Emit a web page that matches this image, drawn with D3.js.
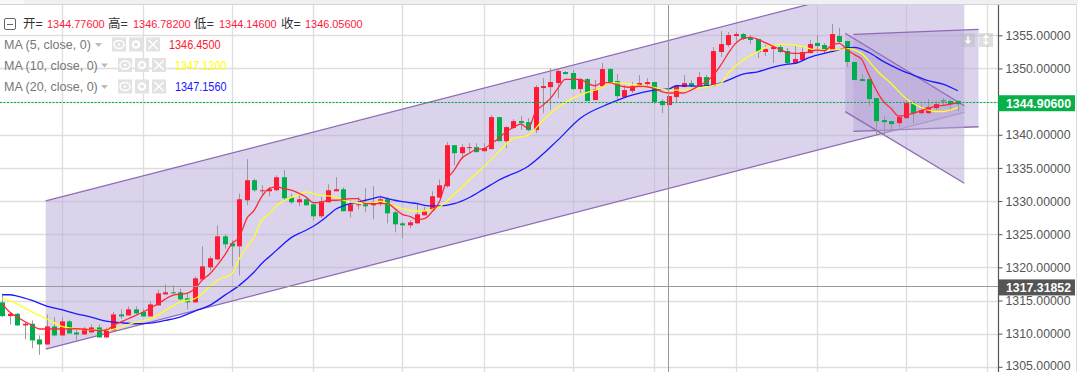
<!DOCTYPE html>
<html>
<head>
<meta charset="utf-8">
<script src="https://cdn.jsdelivr.net/npm/d3@7"></script>
<style>
html, body { margin: 0; padding: 0; background: #fff; overflow: hidden; }
text { font-family: "Liberation Sans", "Noto Sans CJK SC", sans-serif; }
</style>
</head>
<body>
<svg id="chart" width="1078" height="372"></svg>
<script>
// candles
const opens = [
1314.72,1312.65,1313.00,1311.24,1311.49,1309.13,1308.37,1311.09,1309.73,1311.85,
1310.18,1309.88,1310.18,1310.94,1309.43,1310.49,1312.90,1312.75,1313.66,1313.26,
1312.60,1314.26,1315.92,1316.23,1316.23,1315.32,1314.72,1318.18,1320.00,1321.21,
1324.68,1323.62,1323.17,1330.12,1333.14,1331.48,1331.48,1331.63,1333.59,1330.57,
1329.81,1330.27,1329.51,1327.70,1329.81,1331.48,1331.78,1328.46,1329.36,1329.51,
1329.36,1329.66,1330.27,1328.30,1326.64,1326.34,1326.64,1327.85,1328.61,1330.52,
1332.24,1338.43,1337.22,1337.98,1338.13,1337.52,1337.83,1342.66,1339.03,1341.00,
1342.06,1341.90,1340.70,1347.04,1347.19,1347.80,1349.46,1349.31,1346.89,1348.40,
1345.23,1347.34,1349.91,1348.10,1345.68,1346.59,1347.19,1347.64,1347.95,1345.08,
1344.47,1345.68,1347.19,1347.79,1347.34,1348.70,1347.34,1352.48,1353.53,1354.89,
1355.19,1354.59,1354.44,1352.48,1352.93,1353.23,1352.63,1350.81,1351.27,1352.32,
1353.84,1353.53,1352.63,1354.89,1354.14,1350.97,1348.40,1348.40,1345.53,1342.21,
1342.05,1341.75,1342.51,1344.62,1343.26,1343.26,1344.02,1345.18,1345.08,1345.08];
const closes = [
1312.65,1313.00,1311.24,1311.49,1308.98,1308.37,1311.09,1309.73,1311.85,1310.03,
1309.88,1310.79,1310.94,1309.43,1310.64,1312.90,1312.60,1313.66,1313.05,1312.60,
1314.41,1316.08,1316.23,1316.08,1315.17,1314.72,1318.34,1320.15,1321.36,1324.68,
1323.47,1323.17,1330.27,1333.14,1331.63,1331.63,1331.78,1333.59,1330.42,1329.81,
1330.27,1329.36,1327.70,1329.97,1331.63,1331.78,1328.46,1329.51,1329.51,1329.21,
1329.81,1330.27,1328.15,1326.49,1326.34,1326.79,1328.00,1328.61,1330.72,1332.38,
1338.43,1337.22,1338.13,1338.13,1337.37,1337.98,1342.66,1339.03,1341.15,1342.06,
1341.75,1340.70,1347.19,1347.34,1347.95,1349.61,1349.15,1346.89,1348.40,1345.08,
1346.89,1349.91,1347.95,1345.83,1346.74,1347.34,1347.80,1347.95,1344.93,1344.47,
1345.83,1347.34,1347.79,1347.34,1348.70,1347.34,1352.63,1353.68,1355.04,1355.19,
1354.44,1354.29,1352.48,1352.93,1353.23,1352.48,1350.81,1351.42,1352.48,1353.68,
1353.38,1352.63,1355.19,1353.99,1350.97,1348.25,1348.10,1345.38,1342.05,1341.90,
1341.60,1342.66,1344.77,1343.26,1343.72,1344.17,1344.62,1345.08,1344.62,1344.62];
const highs = [
1316.03,1313.10,1313.10,1311.75,1312.00,1309.73,1312.90,1312.50,1312.50,1312.10,
1310.74,1311.00,1311.39,1311.39,1310.89,1313.26,1313.66,1314.11,1314.11,1313.76,
1314.87,1316.63,1317.44,1317.28,1316.78,1316.03,1318.64,1323.17,1321.66,1326.34,
1324.98,1324.08,1331.12,1336.31,1333.39,1332.38,1332.13,1333.89,1334.65,1331.12,
1330.87,1330.62,1329.87,1330.62,1332.53,1333.59,1332.08,1330.12,1330.62,1331.93,
1332.23,1330.87,1330.62,1328.61,1326.84,1327.10,1329.81,1329.11,1331.48,1333.24,
1338.88,1338.43,1338.58,1338.73,1338.73,1338.73,1342.96,1342.66,1341.30,1342.36,
1342.81,1342.51,1347.49,1348.55,1350.06,1349.91,1349.61,1349.76,1348.55,1348.55,
1348.25,1350.82,1350.06,1349.15,1347.49,1347.95,1349.00,1348.55,1347.95,1345.38,
1345.83,1347.49,1349.00,1348.25,1349.45,1349.00,1353.23,1355.65,1355.50,1355.50,
1355.35,1355.04,1354.44,1353.53,1353.68,1353.68,1353.08,1353.38,1353.38,1354.29,
1355.04,1353.84,1356.71,1356.10,1354.14,1350.97,1349.15,1348.40,1345.53,1342.81,
1342.05,1342.96,1345.68,1345.23,1344.62,1345.38,1345.08,1345.53,1345.23,1345.23];
const lows = [
1312.50,1311.39,1311.20,1309.13,1307.82,1306.81,1308.37,1309.58,1309.73,1310.03,
1308.98,1309.88,1310.18,1309.43,1309.43,1310.49,1312.25,1312.75,1312.75,1312.60,
1312.60,1314.26,1315.92,1315.92,1315.02,1313.66,1314.72,1318.03,1319.50,1321.05,
1322.82,1320.15,1318.79,1329.36,1331.38,1330.87,1330.72,1331.48,1329.97,1329.51,
1329.21,1329.36,1327.10,1327.40,1329.81,1331.48,1328.46,1327.55,1328.76,1328.30,
1327.25,1329.21,1326.64,1325.28,1324.38,1325.89,1326.49,1327.85,1328.61,1330.52,
1332.00,1335.41,1336.32,1337.22,1337.37,1337.52,1337.83,1339.03,1337.98,1341.00,
1340.70,1340.55,1340.24,1343.26,1343.72,1345.53,1349.15,1346.74,1346.28,1345.08,
1345.23,1347.19,1347.95,1345.38,1345.68,1346.28,1347.19,1347.34,1344.62,1343.26,
1344.47,1344.92,1347.19,1347.19,1347.34,1347.34,1347.34,1351.72,1353.23,1353.78,
1354.29,1353.68,1351.57,1351.87,1350.81,1352.32,1350.66,1350.66,1351.27,1352.32,
1352.32,1352.32,1352.63,1353.84,1350.21,1348.25,1348.10,1344.32,1339.94,1339.79,
1340.69,1341.15,1342.36,1341.75,1343.11,1343.11,1343.72,1344.47,1343.56,1343.56];

// moving averages as [candle, price]
const ma5 = [[0,1314.5],[1,1313.26],[2,1312.5],[4,1311.24],[5,1310.7],[7,1310.7],[10,1310.74],[13,1310.49],[14,1310.49],[15,1311.24],
[17,1312.25],[19,1313.26],[21,1314.5],[23,1315.77],[25,1316.13],[26,1316.78],[27,1318.1],[28,1319],[29,1320.3],[30,1321.81],
[31,1323.57],[32,1324.58],[33,1327.35],[34,1328.6],[35,1330.62],[36,1331.88],[37,1332.13],[38,1331.88],[39,1331.63],[40,1331.2],
[41,1330.62],[42,1329.76],[43,1329.76],[44,1330.12],[45,1330.12],[46,1330.2],[47,1330.37],[48,1330.37],[49,1329.61],[52,1329.61],
[53,1328.86],[54,1328],[55,1327.7],[56,1327.2],[57,1327.35],[58,1328.36],[59,1329.87],[60,1333.14],[61,1334.65],[62,1336.42],
[63,1337.17],[64,1337.78],[65,1337.88],[66,1338.68],[67,1339.44],[68,1340.44],[69,1341.1],[70,1341.6],[71,1340.95],[72,1343.47],
[73,1344.47],[74,1345.48],[75,1346.99],[76,1348.35],[78,1348.35],[79,1347.75],[80,1347.39],[81,1347.85],[82,1347.85],[83,1347.5],
[84,1347.24],[85,1347.14],[86,1347.34],[87,1347.24],[88,1346.99],[89,1346.49],[90,1346.3],[92,1346.3],[93,1346.74],[94,1347.34],
[95,1348],[96,1349],[97,1350.5],[98,1352.27],[99,1353.78],[100,1354.54],[101,1354.69],[102,1354.39],[103,1353.89],[104,1353.38],
[105,1352.88],[106,1352.38],[107,1352.27],[108,1352.27],[109,1352.53],[110,1352.78],[111,1352.68],[112,1353.53],[113,1353.78],[114,1352.9],
[115,1352.1],[116,1351.4],[117,1349],[118,1346.74],[119,1344.97],[120,1343.97],[121,1342.81],[122,1342.96],[123,1343.21],[124,1343.61],
[125,1343.97],[126,1344.32],[127,1344.42],[128,1344.62],[129,1344.82]];
const ma10 = [[0,1315.27],[2,1314.5],[4,1313.26],[6,1312.25],[8,1311.09],[10,1310.74],[12,1310.59],[14,1310.49],[16,1310.99],[18,1311.75],
[20,1312.25],[22,1313.51],[24,1314.77],[26,1315.27],[28,1317.03],[29,1318.03],[31,1319.04],[32,1321.3],[33,1323.07],[34,1324.58],
[35,1327.1],[36,1328],[37,1329.26],[38,1330.02],[39,1330.52],[40,1330.97],[41,1331.38],[42,1331.12],[43,1330.87],[44,1330.77],
[45,1330.62],[46,1330.12],[47,1329.87],[49,1329.71],[50,1329.71],[51,1329.97],[52,1329.61],[53,1329.26],[54,1328.86],[55,1328.61],
[56,1328.5],[57,1328.5],[58,1328.71],[59,1329.11],[61,1331],[63,1333.14],[65,1335.16],[67,1337.42],[69,1339.44],[71,1339.94],
[73,1342.21],[75,1344.12],[77,1345.48],[79,1346.39],[81,1347.14],[82,1347.85],[84,1347.75],[85,1347.6],[88,1347.14],[90,1346.74],
[92,1346.74],[95,1347.24],[97,1347.74],[98,1349.25],[100,1351.27],[102,1352.53],[104,1353.53],[106,1353.68],[108,1353.28],[110,1352.78],
[112,1352.78],[114,1353],[116,1352.27],[117,1351.1],[118,1349.76],[120,1347.74],[122,1345.48],[123,1344.72],[124,1344.12],[125,1343.72],
[126,1343.51],[127,1343.51],[128,1343.72],[129,1344.12]];
const ma20 = [[0,1315.87],[1,1315.87],[2,1315.67],[4,1315.02],[6,1314.16],[8,1313.61],[10,1313],[12,1312.5],[14,1311.9],[16,1311.65],
[18,1311.49],[20,1311.6],[22,1312],[24,1312.5],[26,1313.41],[28,1314.26],[30,1315.77],[32,1317.28],[34,1319.3],[35,1320.55],
[36,1321.56],[37,1322.56],[38,1323.57],[39,1324.48],[40,1325.08],[41,1325.59],[42,1326.19],[43,1326.95],[44,1327.85],[45,1328.76],
[46,1329.26],[47,1329.61],[48,1329.81],[49,1330.12],[50,1330.37],[51,1330.62],[52,1330.37],[53,1330.12],[54,1329.92],[55,1329.76],
[56,1329.61],[57,1329.36],[58,1329.26],[59,1329.26],[61,1329.6],[63,1330.5],[65,1331.8],[67,1333.14],[71,1335.26],[75,1339.19],
[78,1342.46],[82,1344.72],[85,1345.98],[88,1346.74],[90,1346.9],[91,1347.39],[94,1347.34],[96,1347.49],[98,1348.25],[100,1349.15],
[102,1349.5],[104,1350.16],[106,1350.66],[107,1350.76],[109,1351.67],[111,1352.27],[112,1352.53],[114,1353.1],[115,1353.18],[117,1352.4],
[119,1351.02],[121,1349.91],[123,1349],[125,1348.15],[127,1347.64],[129,1346.64]];

// trend channels: [candle, upper price, lower price]
const channelMain = [[5.86,1330.01,1307.68],[129.88,1365.71,1343.39]];
const channelFlat = [[114.9,1355.15,1340.52],[131.8,1355.9,1341.21]];
const channelDown = [[113.8,1355.3,1343.48],[129.88,1344.38,1332.68]];

const priceTicks = [1355,1350,1345,1340,1335,1330,1325,1320,1315,1310,1305];
const timeGrid = [8,19,31,42,54,65,77,88,99,110,122,133];
const lastPrice = 1344.906;
const crossPrice = 1317.2;
const crossCandle = 90;
const crossLabel = "1317.31852";
const ohlcLabels = ["开=","高=","低=","收="];
const ohlcValues = ["1344.77600","1346.78200","1344.14600","1346.05600"];
const maNames = ["MA (5, close, 0)","MA (10, close, 0)","MA (20, close, 0)"];
const maValues = ["1346.4500","1347.1200","1347.1560"];
const maColors = ["#ff1a30","#ffff00","#1a1aff"];

const upColor = "#ff1a35", downColor = "#00ae4b", wickColor = "#999";
const svg = d3.select("#chart");
const plotRight = 998, plotTop = 5, plotBottom = 372;

const x = d3.scaleLinear().domain([0, 129]).range([2.3, 957.8]);
const y = d3.scaleLinear().domain([1355, 1305]).range([35.3, 366.8]);

svg.append("clipPath").attr("id", "plot").append("rect")
    .attr("x", 0).attr("y", plotTop).attr("width", plotRight).attr("height", plotBottom - plotTop);

// top strip
svg.append("rect").attr("width", 1078).attr("height", 4).attr("fill", "#eef0f3");
svg.append("rect").attr("width", 24).attr("height", 4).attr("fill", "#f8f8f8");
svg.append("line").attr("x1", 0).attr("x2", 1076).attr("y1", 4.5).attr("y2", 4.5).attr("stroke", "#d4d4d4");
svg.append("line").attr("x1", 1076.5).attr("x2", 1076.5).attr("y1", 4).attr("y2", 372).attr("stroke", "#dcdcdc");

const plot = svg.append("g").attr("clip-path", "url(#plot)");

// grid
plot.append("g").selectAll("line").data(priceTicks).join("line")
    .attr("x1", 0).attr("x2", plotRight)
    .attr("y1", d => Math.round(y(d)) + 0.5).attr("y2", d => Math.round(y(d)) + 0.5)
    .attr("stroke", "#dedede").attr("stroke-width", 1.3);
plot.append("g").selectAll("line").data(timeGrid).join("line")
    .attr("x1", d => Math.round(x(d)) + 0.5).attr("x2", d => Math.round(x(d)) + 0.5)
    .attr("y1", plotTop).attr("y2", plotBottom)
    .attr("stroke", "#dedede").attr("stroke-width", 1.3);

// channels
const area = d3.area().x(d => x(d[0])).y0(d => y(d[2])).y1(d => y(d[1]));
[channelMain, channelFlat, channelDown].forEach(c => {
    plot.append("path").attr("d", area(c)).attr("fill", "rgba(183,167,215,0.5)");
    [1, 2].forEach(k => {
        plot.append("line")
            .attr("x1", x(c[0][0])).attr("y1", y(c[0][k]))
            .attr("x2", x(c[1][0])).attr("y2", y(c[1][k]))
            .attr("stroke", "#8f6ab5").attr("stroke-width", 1.3);
    });
});

// candles
const candles = opens.map((o, i) => ({ i, o, c: closes[i], h: highs[i], l: lows[i] }));
const cx = d => Math.round(x(d.i)) + 0.5;
const candle = plot.append("g").selectAll("g").data(candles).join("g");
candle.append("line")
    .attr("x1", cx).attr("x2", cx)
    .attr("y1", d => y(d.h)).attr("y2", d => y(d.l))
    .attr("stroke", wickColor);
candle.append("rect")
    .attr("x", d => cx(d) - 2.5).attr("width", 5)
    .attr("y", d => y(Math.max(d.o, d.c)))
    .attr("height", d => Math.max(1, Math.abs(y(d.o) - y(d.c))))
    .attr("fill", d => d.c >= d.o ? upColor : downColor);

// moving averages
const line = d3.line().x(d => x(d[0])).y(d => y(d[1])).curve(d3.curveMonotoneX);
[ma20, ma10, ma5].forEach((m, k) => {
    plot.append("path").attr("d", line(m)).attr("fill", "none")
        .attr("stroke", ["#1a1aff", "#ffff22", "#ff2a35"][k]).attr("stroke-width", 1.3);
});

// last price and crosshair
plot.append("line").attr("x1", 0).attr("x2", plotRight)
    .attr("y1", Math.round(y(lastPrice)) + 0.5).attr("y2", Math.round(y(lastPrice)) + 0.5)
    .attr("stroke", "#00b040").attr("stroke-dasharray", "2,1.5");
plot.append("line").attr("x1", 0).attr("x2", plotRight)
    .attr("y1", Math.round(y(crossPrice)) + 0.5).attr("y2", Math.round(y(crossPrice)) + 0.5)
    .attr("stroke", "#999");
plot.append("line").attr("y1", plotTop).attr("y2", plotBottom)
    .attr("x1", Math.round(x(crossCandle)) - 0.5).attr("x2", Math.round(x(crossCandle)) - 0.5)
    .attr("stroke", "#999");

// price axis
const axis = svg.append("g").attr("transform", `translate(${plotRight + 0.5},0)`)
    .call(d3.axisRight(y).tickValues(priceTicks).tickSize(4).tickPadding(3).tickFormat(d => d.toFixed(5)));
axis.select(".domain").attr("d", `M0,${plotTop}V${plotBottom}`).attr("stroke", "#555").attr("stroke-width", 1.2);
axis.selectAll(".tick line").attr("stroke", "#555");
axis.selectAll(".tick text").attr("fill", "#555").attr("font-size", 13)
    .attr("textLength", 65).attr("lengthAdjust", "spacingAndGlyphs")
    .attr("y", d => d === 1305 ? -1.6 : 0);

function priceTag(yPos, fill, label) {
    svg.append("rect").attr("x", plotRight).attr("y", yPos - 8).attr("width", 77).attr("height", 16).attr("fill", fill);
    svg.append("text").attr("x", 1006).attr("y", yPos + 4.5).attr("fill", "#fff")
        .attr("font-size", 13).attr("font-weight", "bold")
        .attr("textLength", 65).attr("lengthAdjust", "spacingAndGlyphs").text(label);
}
priceTag(y(lastPrice) + 1, "#08b04a", lastPrice.toFixed(5));
priceTag(y(crossPrice) + 1.5, "#555", crossLabel);

// legend
const legend = svg.append("g");
legend.append("rect").attr("x", 4.5).attr("y", 18.5).attr("width", 11).attr("height", 11).attr("rx", 1.5)
    .attr("fill", "none").attr("stroke", "#666");
legend.append("line").attr("x1", 7).attr("x2", 13).attr("y1", 24.5).attr("y2", 24.5).attr("stroke", "#666");
const labelX = [23, 108, 194, 281], valueX = [47, 133, 219, 305];
ohlcLabels.forEach((t, i) => {
    legend.append("text").attr("x", labelX[i]).attr("y", 28).attr("fill", "#333").attr("font-size", 12.5).text(t);
    legend.append("text").attr("x", valueX[i]).attr("y", 28).attr("fill", "#ff1a40").attr("font-size", 11.5)
        .attr("textLength", 57.6).attr("lengthAdjust", "spacingAndGlyphs").text(ohlcValues[i]);
});

const rowY = [44.5, 65, 86.5], iconX = [112, 118, 118], valX = [169, 175, 175], caretX = [95, 101, 101];
maNames.forEach((t, i) => {
    const r = legend.append("g").attr("transform", `translate(0,${rowY[i]})`);
    r.append("text").attr("x", 4).attr("y", 4.5).attr("fill", "#777").attr("font-size", 12.5).text(t);
    r.append("path").attr("d", `M${caretX[i]},-1.5h7l-3.5,4z`).attr("fill", "#bbb");
    [0, 17, 34].forEach((dx, k) => {
        const ix = iconX[i] + dx;
        r.append("rect").attr("x", ix).attr("y", -7).attr("width", 14).attr("height", 14).attr("fill", "#e2e2e2");
        if (k === 0) {
            r.append("ellipse").attr("cx", ix + 7).attr("cy", 0).attr("rx", 5).attr("ry", 4)
                .attr("fill", "none").attr("stroke", "#fff").attr("stroke-width", 1.5);
            r.append("circle").attr("cx", ix + 7).attr("cy", 0).attr("r", 1.3).attr("fill", "#fff");
        } else if (k === 1) {
            r.append("circle").attr("cx", ix + 7).attr("cy", 0).attr("r", 3.2)
                .attr("fill", "none").attr("stroke", "#fff").attr("stroke-width", 2.2);
        } else {
            r.append("path").attr("d", `M${ix + 2.5},-4.5l9,9m0,-9l-9,9`).attr("stroke", "#fff").attr("stroke-width", 1.5);
        }
    });
    r.append("text").attr("x", valX[i]).attr("y", 4.5).attr("fill", maColors[i]).attr("font-size", 12.5)
        .attr("textLength", 51.5).attr("lengthAdjust", "spacingAndGlyphs").text(maValues[i]);
});

// scale buttons, top right
[961, 979].forEach((bx, k) => {
    svg.append("rect").attr("x", bx).attr("y", 33).attr("width", 14).attr("height", 14).attr("fill", "#bbb").attr("opacity", 0.45);
    svg.append("path").attr("d", k === 0
            ? `M${bx + 7},36v7m-2.5,-2.5l2.5,2.5l2.5,-2.5`
            : `M${bx + 7},36v8m-2.5,-6l2.5,-2.5l2.5,2.5m-5,3.5l2.5,2.5l2.5,-2.5`)
        .attr("fill", "none").attr("stroke", "#fff").attr("stroke-width", 1.5);
});
</script>
</body>
</html>
